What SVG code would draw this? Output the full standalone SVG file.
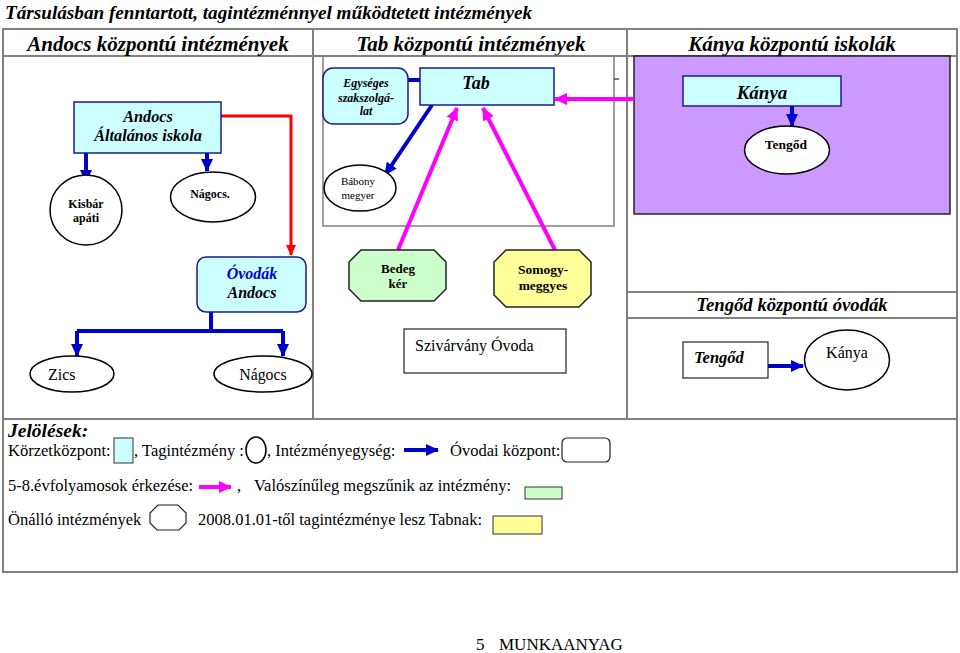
<svg xmlns="http://www.w3.org/2000/svg" width="960" height="653" viewBox="0 0 960 653" font-family="'Liberation Serif', 'DejaVu Serif', serif">
<style>
text{font-family:'Liberation Serif','DejaVu Serif',serif;fill:#000}
.bi{font-weight:bold;font-style:italic}
.b{font-weight:bold}
.grid{stroke:#808080;stroke-width:2;fill:none}
.cyan{fill:#CCFFFF;stroke:#1a1a99;stroke-width:1.5}
.ell{fill:#fff;stroke:#000;stroke-width:1.5}
.blue{stroke:#0000CC;stroke-width:4;fill:none}
.red{stroke:#FF0000;stroke-width:3;fill:none}
.mag{stroke:#FF00FF;stroke-width:4;fill:none}
.c{text-anchor:middle}
.lg{font-size:16.5px}
</style>
<defs>
<marker id="ab" markerUnits="userSpaceOnUse" markerWidth="14" markerHeight="14" refX="12" refY="7" orient="auto"><path d="M0,1 L13,7 L0,13 Z" fill="#0000CC"/></marker>
<marker id="ar" markerUnits="userSpaceOnUse" markerWidth="12" markerHeight="12" refX="10" refY="6" orient="auto"><path d="M0,1 L11,6 L0,11 Z" fill="#FF0000"/></marker>
<marker id="am" markerUnits="userSpaceOnUse" markerWidth="14" markerHeight="14" refX="12" refY="7" orient="auto"><path d="M0,1 L13,7 L0,13 Z" fill="#FF00FF"/></marker>
</defs>
<rect width="960" height="653" fill="#fff"/>
<text x="5" y="19" class="bi" font-size="19.2">Társulásban fenntartott, tagintézménnyel működtetett intézmények</text>
<g id="table">
<rect x="3" y="29" width="954" height="543" class="grid"/>
<line x1="3" y1="56" x2="957" y2="56" class="grid"/>
<line x1="3" y1="419" x2="957" y2="419" class="grid"/>
<line x1="313" y1="29" x2="313" y2="419" class="grid"/>
<line x1="627" y1="29" x2="627" y2="419" class="grid"/>
<line x1="627" y1="292" x2="957" y2="292" class="grid"/>
<line x1="627" y1="318" x2="957" y2="318" class="grid"/>
<text x="158" y="51" class="bi c" font-size="21">Andocs központú intézmények</text>
<text x="471" y="51" class="bi c" font-size="21">Tab központú intézmények</text>
<text x="792" y="51" class="bi c" font-size="21">Kánya központú iskolák</text>
<text x="792" y="311" class="bi c" font-size="18.7">Tengőd központú óvodák</text>
<rect x="323" y="56" width="291" height="170" fill="none" stroke="#808080" stroke-width="1.5"/>
<line x1="614" y1="79" x2="619" y2="79" stroke="#000" stroke-width="1"/>
<rect x="634" y="56" width="316" height="158" fill="#CC99FF" stroke="#222" stroke-width="1.5"/>
</g>
<g id="connectors">
<path d="M221,116 H291 V255" class="red" marker-end="url(#ar)"/>
<line x1="86" y1="153" x2="86" y2="182" class="blue" marker-end="url(#ab)"/>
<line x1="207" y1="153" x2="207" y2="171" class="blue" marker-end="url(#ab)"/>
<line x1="408" y1="80" x2="420" y2="80" class="blue"/>
<line x1="432" y1="105" x2="385" y2="175" class="blue" stroke-width="3.5" marker-end="url(#ab)"/>
<line x1="398" y1="250" x2="457" y2="108" class="mag" marker-end="url(#am)"/>
<line x1="555" y1="250" x2="483" y2="108" class="mag" marker-end="url(#am)"/>
<line x1="634" y1="99" x2="555" y2="99" class="mag" marker-end="url(#am)"/>
<line x1="792" y1="106" x2="792" y2="126" class="blue" marker-end="url(#ab)"/>
<path d="M211,312 V331 M77,331 H283" class="blue"/>
<line x1="77" y1="331" x2="77" y2="356" class="blue" marker-end="url(#ab)"/>
<line x1="283" y1="331" x2="283" y2="356" class="blue" marker-end="url(#ab)"/>
<line x1="768" y1="366" x2="803" y2="366" class="blue" marker-end="url(#ab)"/>
</g>
<g id="andocs-ai">
<rect x="74" y="102" width="147" height="51" class="cyan"/>
<text x="148" y="122" class="bi c" font-size="16.2">Andocs</text>
<text x="148" y="141" class="bi c" font-size="16.2">Általános iskola</text>
</g>
<g id="kisbar">
<ellipse cx="86" cy="210" rx="36" ry="35" class="ell"/>
<text x="86" y="208" class="b c" font-size="12">Kisbár</text>
<text x="86" y="222" class="b c" font-size="12">apáti</text>
</g>
<g id="nagocs1">
<ellipse cx="213" cy="197" rx="42.5" ry="25" class="ell"/>
<text x="210" y="198" class="b c" font-size="12">Nágocs.</text>
</g>
<g id="egyseges">
<rect x="323" y="68" width="85" height="56" rx="10" class="cyan" stroke="#222"/>
<text x="366" y="87" class="bi c" font-size="12">Egységes</text>
<text x="366" y="102" class="bi c" font-size="12">szakszolgá-</text>
<text x="366" y="115" class="bi c" font-size="12">lat</text>
</g>
<g id="tab">
<rect x="420" y="68" width="134" height="37" class="cyan"/>
<text x="476" y="89" class="bi c" font-size="18">Tab</text>
</g>
<g id="babony">
<ellipse cx="360" cy="188" rx="36" ry="23" class="ell"/>
<text x="358" y="185" class="c" font-size="11">Bábony</text>
<text x="358" y="199" class="c" font-size="11">megyer</text>
</g>
<g id="kanya">
<rect x="683" y="76" width="158" height="30" class="cyan"/>
<text x="762" y="99" class="bi c" font-size="19">Kánya</text>
</g>
<g id="tengod1">
<ellipse cx="787" cy="150" rx="42.5" ry="24" class="ell"/>
<text x="786" y="149" class="b c" font-size="13.5">Tengőd</text>
</g>
<g id="ovodak">
<rect x="197" y="257" width="109" height="55" rx="9" class="cyan" stroke="#222"/>
<text x="252" y="279" class="bi c" font-size="16" style="fill:#0000CC">Óvodák</text>
<text x="252" y="298" class="bi c" font-size="16">Andocs</text>
</g>
<g id="bedeg">
<polygon points="361,250 434,250 446,262 446,289 434,301 361,301 349,289 349,262" fill="#CCFFCC" stroke="#222" stroke-width="1.5"/>
<text x="398" y="273" class="b c" font-size="13">Bedeg</text>
<text x="398" y="288" class="b c" font-size="13">kér</text>
</g>
<g id="somogy">
<polygon points="506,250 579,250 591,262 591,295 579,307 506,307 494,295 494,262" fill="#FFFF99" stroke="#222" stroke-width="1.5"/>
<text x="543" y="274" class="b c" font-size="13.5">Somogy-</text>
<text x="543" y="290" class="b c" font-size="13.5">meggyes</text>
</g>
<g id="zics">
<ellipse cx="72" cy="374" rx="42" ry="18" class="ell"/>
<text x="48" y="380" font-size="16">Zics</text>
</g>
<g id="nagocs2">
<ellipse cx="263" cy="374" rx="49" ry="18" class="ell"/>
<text x="263" y="380" class="c" font-size="15.8">Nágocs</text>
</g>
<g id="szivarvany">
<rect x="404" y="329" width="162" height="44" fill="#fff" stroke="#222" stroke-width="1.2"/>
<text x="415" y="351" font-size="16">Szivárvány Óvoda</text>
</g>
<g id="tengod2">
<rect x="683" y="342" width="85" height="36" fill="#fff" stroke="#222" stroke-width="1.2"/>
<text x="694" y="363" class="bi" font-size="16.5">Tengőd</text>
</g>
<g id="kanya2">
<ellipse cx="847" cy="360" rx="42.5" ry="30" class="ell"/>
<text x="847" y="358" class="c" font-size="16">Kánya</text>
</g>
<g id="legend">
<text x="8" y="437" class="bi" font-size="19.5">Jelölések:</text>
<text x="8" y="456" class="lg">Körzetközpont:</text>
<rect x="114" y="438" width="19" height="25" fill="#CCFFFF" stroke="#333" stroke-width="1"/>
<text x="134" y="456" class="lg">, Tagintézmény :</text>
<ellipse cx="256" cy="450" rx="10" ry="13" class="ell" stroke-width="1.2"/>
<text x="267" y="456" class="lg">,  Intézményegység:</text>
<line x1="404" y1="450" x2="438" y2="450" class="blue" stroke-width="3" marker-end="url(#ab)"/>
<text x="450" y="456" class="lg">Óvodai központ:</text>
<rect x="562" y="438" width="48" height="24" rx="5" fill="#fff" stroke="#222" stroke-width="1.2"/>
<text x="8" y="491" class="lg">5-8.évfolyamosok érkezése:</text>
<line x1="199" y1="487" x2="231" y2="487" class="mag" stroke-width="3" marker-end="url(#am)"/>
<text x="237" y="491" class="lg">,</text>
<text x="254" y="491" class="lg">Valószínűleg megszűnik az intézmény:</text>
<rect x="525" y="487" width="37" height="12" fill="#CCFFCC" stroke="#333" stroke-width="1"/>
<text x="8" y="525" class="lg">Önálló intézmények</text>
<polygon points="158,505 178,505 186,513 186,523 179,530 157,530 150,523 150,513" fill="#fff" stroke="#222" stroke-width="1.2"/>
<text x="198" y="525" class="lg">2008.01.01-től tagintézménye lesz Tabnak:</text>
<rect x="493" y="516" width="49" height="18" fill="#FFFF99" stroke="#333" stroke-width="1"/>
</g>
<text x="476" y="650" font-size="17">5</text>
<text x="499" y="650" font-size="17">MUNKAANYAG</text>
</svg>
